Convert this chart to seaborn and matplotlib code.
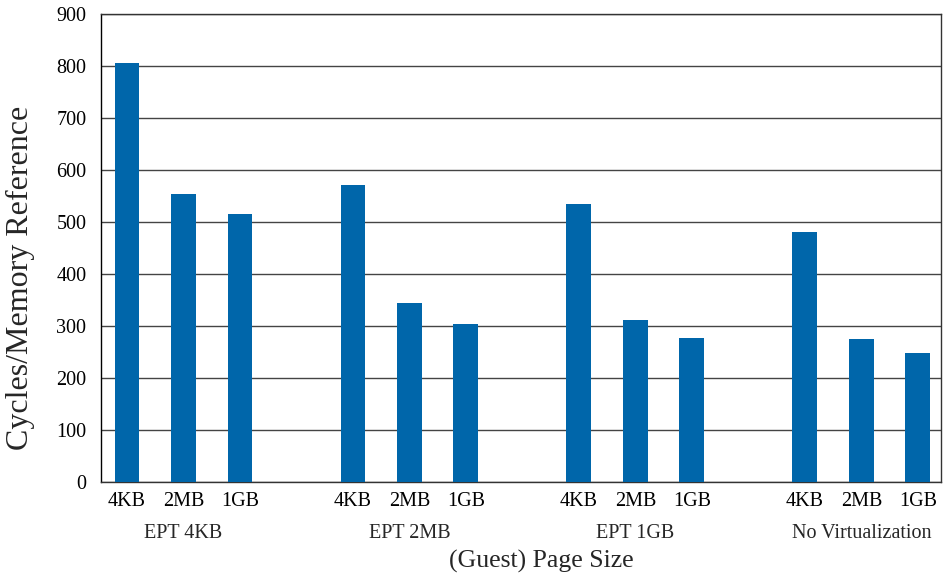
import matplotlib
matplotlib.use("Agg")
import matplotlib.pyplot as plt
import seaborn as sns
import pandas as pd

groups = ["EPT 4KB", "EPT 2MB", "EPT 1GB", "No Virtualization"]
page_sizes = ["4KB", "2MB", "1GB"]
ept4kb = [806, 554, 515]
ept2mb = [571, 344, 304]
ept1gb = [535, 311, 277]
novirt = [481, 275, 248]
series = [ept4kb, ept2mb, ept1gb, novirt]

rows = []
order = []
for gi, (g, vals) in enumerate(zip(groups, series)):
    for p, v in zip(page_sizes, vals):
        key = f"{g}|{p}"
        rows.append({"slot": key, "value": v})
        order.append(key)
    if gi < len(groups) - 1:
        order.append(f"gap{gi}")
df = pd.DataFrame(rows)

sns.set_theme(style="white")
plt.rcParams["font.family"] = ["Liberation Serif", "DejaVu Serif"]

fig = plt.figure(figsize=(9.46, 5.78), dpi=100)
ax = fig.add_axes([101 / 946, 1 - 482 / 578, 840 / 946, 468 / 578])

sns.barplot(data=df, x="slot", y="value", order=order, color="#0066AA",
            saturation=1, width=0.44, linewidth=0, ax=ax, zorder=3)

ax.set_ylim(0, 900)
ax.set_yticks(range(0, 901, 100))
ax.set_xlim(-0.46, len(order) - 1 + 0.41)
ax.yaxis.grid(True, color="#444444", linewidth=1.0, zorder=0)
ax.set_axisbelow(True)
for name, s in ax.spines.items():
    s.set_color("#333333")
    s.set_linewidth(1.0)
ax.spines["left"].set_color("black")

xt = [i for i, k in enumerate(order) if not k.startswith("gap")]
ax.set_xticks(xt)
ax.set_xticklabels([order[i].split("|")[1] for i in xt])
ax.tick_params(axis="y", length=0, labelsize=14.5, colors="black", pad=10.5)
ax.tick_params(axis="x", length=0, labelsize=14.5, colors="black", pad=7.5)

for gi, g in enumerate(groups):
    center = gi * 4 + 1
    ax.text(center, (482 - 533) / 468, g, transform=ax.get_xaxis_transform(),
            ha="center", va="center", fontsize=14.5)

ax.set_xlabel("")
ax.set_ylabel("")
fig.text(20 / 946, 1 - 278 / 578, "Cycles/Memory Reference", rotation=90,
         ha="center", va="center", fontsize=23)
fig.text(541 / 946, 1 - 561 / 578, "(Guest) Page Size",
         ha="center", va="center", fontsize=18.5)

fig.savefig("out.png", dpi=100, facecolor="white")
